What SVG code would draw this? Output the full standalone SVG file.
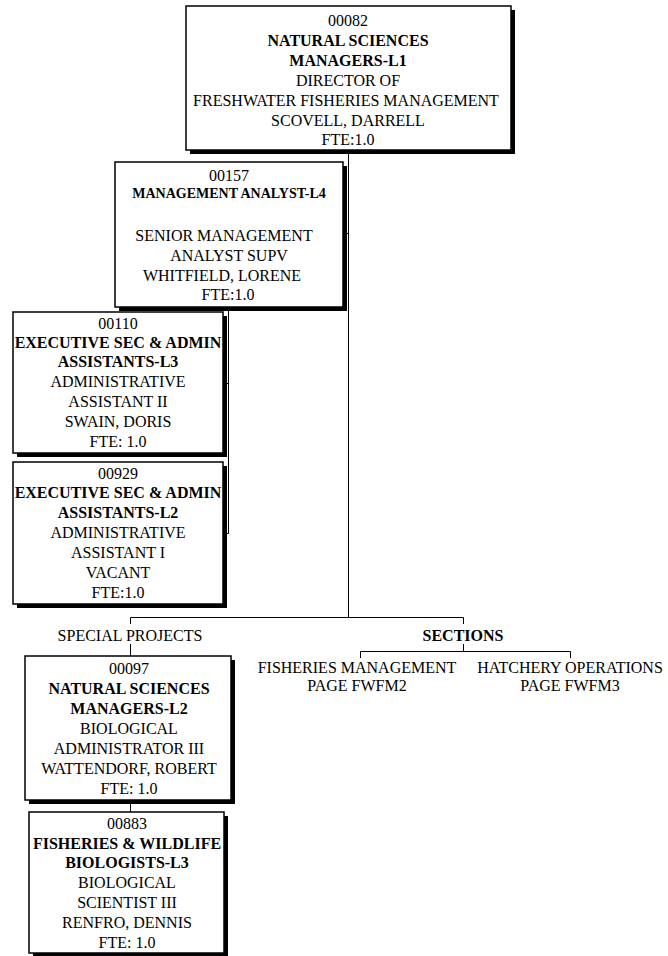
<svg xmlns="http://www.w3.org/2000/svg" width="668" height="956" viewBox="0 0 668 956">
  <style>
    .shadow { fill: #000; }
    .box { fill: #fff; stroke: #000; stroke-width: 1.5; }
    text { font-family: "Liberation Serif", "Times New Roman", serif; font-size: 16px; text-anchor: middle; fill: #000; }
    .b { font-weight: bold; }
    .sm { font-size: 14px; }
    .conn { stroke: #000; stroke-width: 1; fill: none; }
  </style>
  <rect width="668" height="956" fill="#fff"/>

  <!-- reporting lines -->
  <g id="connectors">
    <path class="conn" d="M348.5 150 V617"/>
    <path class="conn" d="M343 233.5 H348.5"/>
    <path class="conn" d="M228.5 307 V533.5 M226 383.5 H228.5 M226 533.5 H228.5"/>
    <path class="conn" d="M130.5 624 V617.5 H463.5 V624"/>
    <path class="conn" d="M130.5 644 V656"/>
    <path class="conn" d="M463.5 644 V651.5"/>
    <path class="conn" d="M360.5 658 V651.5 H570.5 V658"/>
    <path class="conn" d="M130.5 800 V812"/>
  </g>

  <g id="n00082">
    <rect class="shadow" x="190" y="10" width="325" height="144"/>
    <rect class="box" x="186" y="6" width="325" height="144"/>
    <text x="348" y="25.5">00082</text>
    <text class="b" x="348" y="45.5">NATURAL SCIENCES</text>
    <text class="b" x="348" y="65.5">MANAGERS-L1</text>
    <text x="348" y="85.5">DIRECTOR OF</text>
    <text x="346" y="105.5">FRESHWATER FISHERIES MANAGEMENT</text>
    <text x="348" y="125.5">SCOVELL, DARRELL</text>
    <text x="348" y="145">FTE:1.0</text>
  </g>

  <g id="n00157">
    <rect class="shadow" x="119" y="166" width="228" height="145"/>
    <rect class="box" x="115" y="162" width="228" height="145"/>
    <text x="229" y="180.5">00157</text>
    <text class="b sm" x="229" y="198">MANAGEMENT ANALYST-L4</text>
    <text x="224" y="240.5">SENIOR MANAGEMENT</text>
    <text x="229" y="260.5">ANALYST SUPV</text>
    <text x="222" y="280.5">WHITFIELD, LORENE</text>
    <text x="228" y="299.5">FTE:1.0</text>
  </g>

  <g id="n00110">
    <rect class="shadow" x="17" y="316" width="210" height="141"/>
    <rect class="box" x="13" y="312" width="210" height="141"/>
    <text x="118" y="328.5">00110</text>
    <text class="b" x="118" y="347.5">EXECUTIVE SEC &amp; ADMIN</text>
    <text class="b" x="118" y="366.5">ASSISTANTS-L3</text>
    <text x="118" y="386.5">ADMINISTRATIVE</text>
    <text x="118" y="407">ASSISTANT II</text>
    <text x="118" y="427">SWAIN, DORIS</text>
    <text x="118" y="447">FTE: 1.0</text>
  </g>

  <g id="n00929">
    <rect class="shadow" x="17" y="466" width="210" height="142"/>
    <rect class="box" x="13" y="462" width="210" height="142"/>
    <text x="118" y="478.5">00929</text>
    <text class="b" x="118" y="498">EXECUTIVE SEC &amp; ADMIN</text>
    <text class="b" x="118" y="518">ASSISTANTS-L2</text>
    <text x="118" y="538">ADMINISTRATIVE</text>
    <text x="118" y="558">ASSISTANT I</text>
    <text x="118" y="578">VACANT</text>
    <text x="118" y="598">FTE:1.0</text>
  </g>

  <g id="special-projects">
    <text x="130" y="640.5">SPECIAL PROJECTS</text>
  </g>

  <g id="sections">
    <text class="b" x="463" y="640.5">SECTIONS</text>
  </g>

  <g id="fisheries-management">
    <text x="357" y="673">FISHERIES MANAGEMENT</text>
    <text x="357" y="691">PAGE FWFM2</text>
  </g>

  <g id="hatchery-operations">
    <text x="570" y="673">HATCHERY OPERATIONS</text>
    <text x="570" y="691">PAGE FWFM3</text>
  </g>

  <g id="n00097">
    <rect class="shadow" x="29" y="660" width="206" height="144"/>
    <rect class="box" x="25" y="656" width="206" height="144"/>
    <text x="129" y="673.5">00097</text>
    <text class="b" x="129" y="693.5">NATURAL SCIENCES</text>
    <text class="b" x="129" y="713.5">MANAGERS-L2</text>
    <text x="129" y="733.5">BIOLOGICAL</text>
    <text x="129" y="753.5">ADMINISTRATOR III</text>
    <text x="129" y="773.5">WATTENDORF, ROBERT</text>
    <text x="129" y="793.5">FTE: 1.0</text>
  </g>

  <g id="n00883">
    <rect class="shadow" x="33" y="816" width="195" height="141"/>
    <rect class="box" x="29" y="812" width="195" height="141"/>
    <text x="127" y="828.5">00883</text>
    <text class="b" x="127" y="848.5">FISHERIES &amp; WILDLIFE</text>
    <text class="b" x="127" y="867.5">BIOLOGISTS-L3</text>
    <text x="127" y="887.5">BIOLOGICAL</text>
    <text x="127" y="907.5">SCIENTIST III</text>
    <text x="127" y="927.5">RENFRO, DENNIS</text>
    <text x="127" y="948">FTE: 1.0</text>
  </g>
</svg>
